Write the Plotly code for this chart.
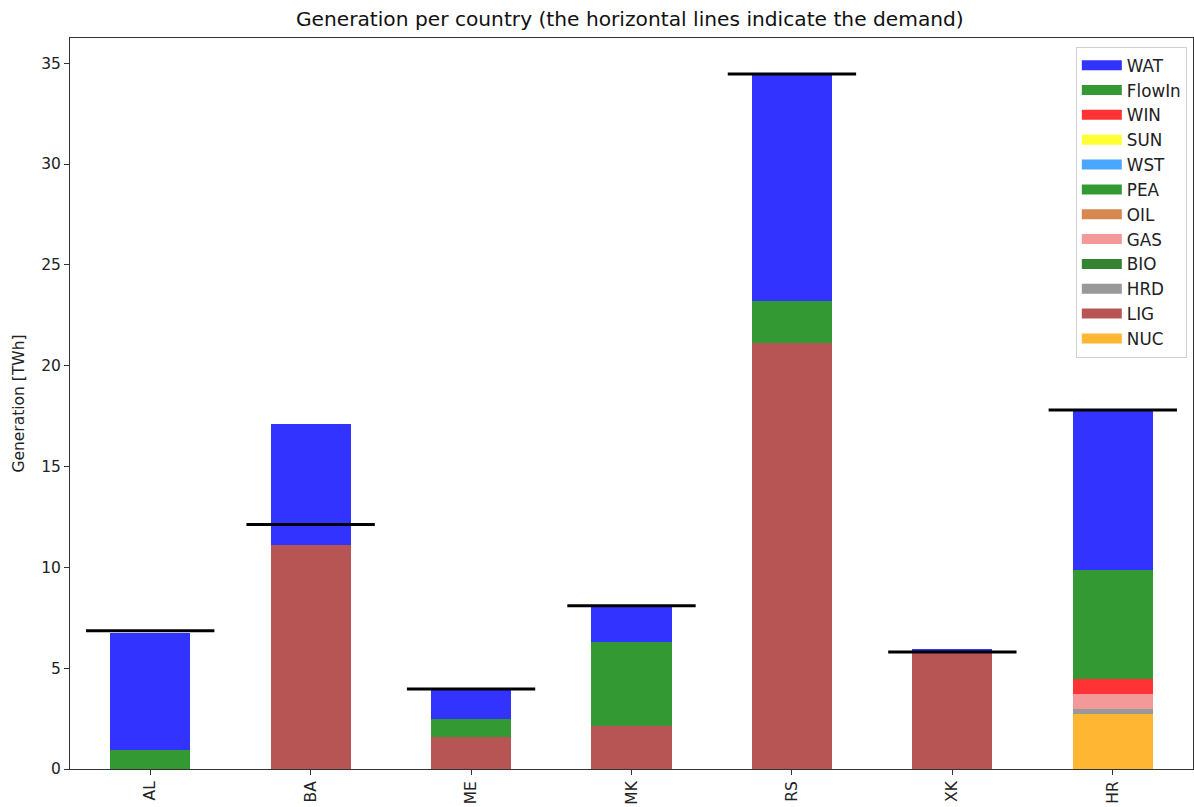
import plotly.graph_objects as go

# Countries and fuel technologies
countries = ["AL", "BA", "ME", "MK", "RS", "XK", "HR"]
fuels = ["NUC", "LIG", "HRD", "BIO", "GAS", "OIL", "PEA", "WST", "SUN", "WIN", "FlowIn", "WAT"]

# Generation per fuel and country [TWh]
NUC = [0, 0, 0, 0, 0, 0, 2.73]
LIG = [0, 11.11, 1.60, 2.13, 21.12, 5.88, 0]
HRD = [0, 0, 0, 0, 0, 0, 0.25]
BIO = [0, 0, 0, 0, 0, 0, 0]
GAS = [0, 0, 0, 0, 0, 0, 0.74]
OIL = [0, 0, 0, 0, 0, 0, 0]
PEA = [0, 0, 0, 0, 0, 0, 0]
WST = [0, 0, 0, 0, 0, 0, 0]
SUN = [0, 0, 0, 0, 0, 0, 0]
WIN = [0, 0, 0, 0, 0, 0, 0.74]
FlowIn = [0.96, 0, 0.87, 4.15, 2.08, 0, 5.41]
WAT = [5.77, 6.00, 1.45, 1.74, 11.22, 0.09, 7.87]

# Demand per country [TWh]
demand = [6.85, 12.12, 3.97, 8.10, 34.47, 5.80, 17.80]

series = {"NUC": NUC, "LIG": LIG, "HRD": HRD, "BIO": BIO, "GAS": GAS, "OIL": OIL,
          "PEA": PEA, "WST": WST, "SUN": SUN, "WIN": WIN, "FlowIn": FlowIn, "WAT": WAT}

colors = {
    "WAT": "rgb(51,51,255)",
    "FlowIn": "rgb(51,153,51)",
    "WIN": "rgb(255,51,51)",
    "SUN": "rgb(255,255,51)",
    "WST": "rgb(75,166,255)",
    "PEA": "rgb(51,153,51)",
    "OIL": "rgb(215,135,80)",
    "GAS": "rgb(243,153,153)",
    "BIO": "rgb(51,131,51)",
    "HRD": "rgb(153,153,153)",
    "LIG": "rgb(183,85,85)",
    "NUC": "rgb(255,183,51)",
}

FONT = "DejaVu Sans"
xpos = list(range(len(countries)))

fig = go.Figure()
for f in fuels:
    fig.add_trace(go.Bar(
        x=xpos, y=series[f], name=f, width=0.5, legendgroup=f, showlegend=False,
        marker=dict(color=colors[f], line=dict(width=0)),
        hoverinfo="skip",
    ))

# Legend patches drawn as thick line swatches, top of the stack listed first
for f in reversed(fuels):
    fig.add_trace(go.Scatter(
        x=[None], y=[None], mode="lines", name=f, legendgroup=f,
        line=dict(color=colors[f], width=10), hoverinfo="skip",
    ))

# Demand indicated by horizontal segments over each bar
dx, dy = [], []
for i, d in enumerate(demand):
    dx += [i - 0.4, i + 0.4, None]
    dy += [d, d, None]
fig.add_trace(go.Scatter(x=dx, y=dy, mode="lines", line=dict(color="black", width=3),
                         showlegend=False, hoverinfo="skip"))

axis_common = dict(showline=True, linecolor="#333333", linewidth=1, mirror=True,
                   ticks="outside", ticklen=5, tickcolor="#333333", showgrid=False,
                   zeroline=False, tickfont=dict(family=FONT, size=15.5, color="#222222"))

fig.update_layout(
    width=1194, height=807,
    barmode="stack",
    plot_bgcolor="white", paper_bgcolor="white",
    margin=dict(l=70, r=1, t=38, b=38),
    title=dict(text="Generation per country (the horizontal lines indicate the demand)",
               x=0.5275, xanchor="center", y=0.977, yanchor="middle",
               font=dict(family=FONT, size=20.2, color="#111111")),
    xaxis=dict(range=[-0.5, 6.5], tickvals=xpos, ticktext=countries, tickangle=-90,
               **axis_common),
    yaxis=dict(range=[0, 36.25], tickvals=[0, 5, 10, 15, 20, 25, 30, 35],
               title=dict(text="Generation [TWh]", standoff=12,
                          font=dict(family=FONT, size=15.5, color="#222222")),
               **axis_common),
    legend=dict(x=0.9945, y=0.988, xanchor="right", yanchor="top",
                traceorder="grouped", bordercolor="#d0d0d0", borderwidth=1,
                bgcolor="white", font=dict(family=FONT, size=16.8, color="#222222"),
                itemwidth=40, tracegroupgap=0),
    showlegend=True,
)

fig.write_html("out.html")
